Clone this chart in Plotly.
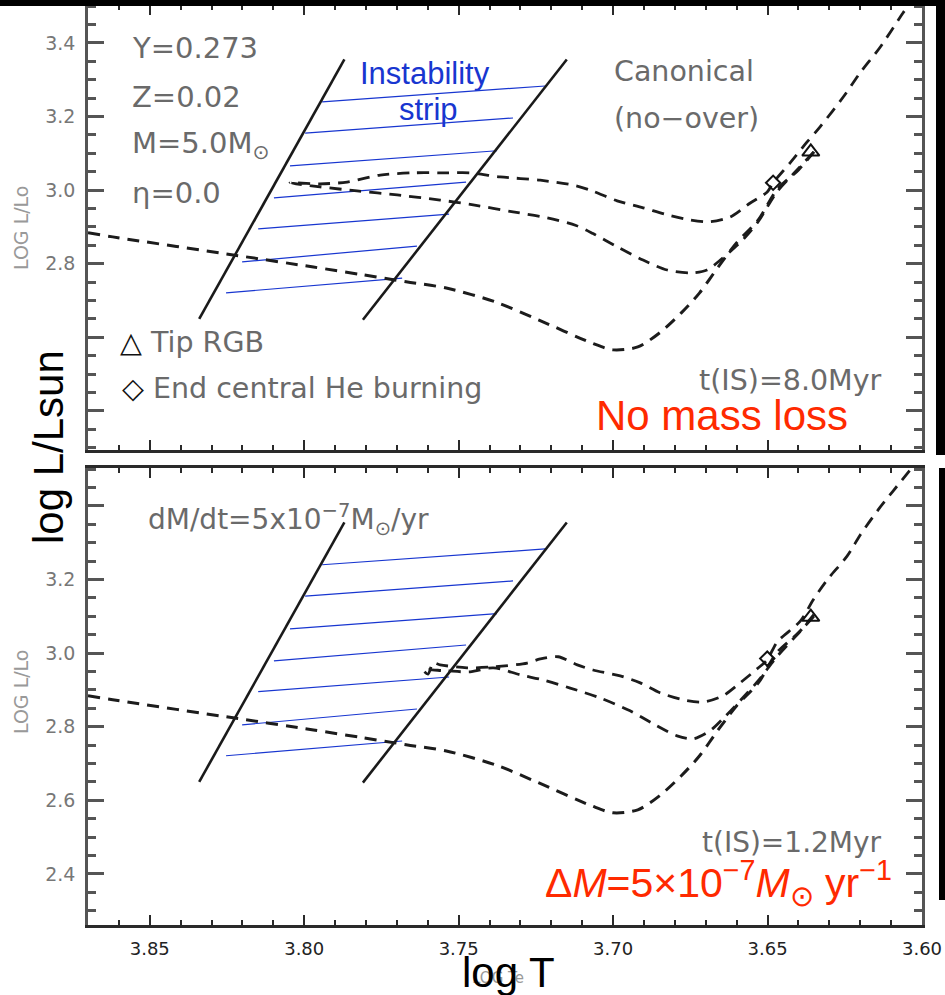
import plotly.graph_objects as go

# ---------------- data ----------------
# instability strip edges (log Te, log L)
blue_edge_logT = [3.834, 3.787]
blue_edge_logL = [2.650, 3.355]
red_edge_logT = [3.781, 3.715]
red_edge_logL = [2.648, 3.355]

# blue hatching of the strip
hatch_T_start = [3.7942, 3.7997, 3.8046, 3.8098, 3.8149, 3.8201, 3.8253]
hatch_L_start = [3.240, 3.155, 3.066, 2.979, 2.895, 2.805, 2.721]
hatch_T_end = [3.7220, 3.7324, 3.7376, 3.7476, 3.7531, 3.7635, 3.7683]
hatch_L_end = [3.283, 3.196, 3.107, 3.022, 2.935, 2.848, 2.761]

# first crossing + red giant branch up to the tip (same in both panels)
trackA_logT = [3.870, 3.862, 3.823, 3.797, 3.781, 3.767, 3.754, 3.738, 3.724, 3.707,
               3.700, 3.692, 3.685, 3.678, 3.672, 3.666, 3.660, 3.653, 3.647, 3.640, 3.635]
trackA_logL = [2.884, 2.873, 2.824, 2.791, 2.770, 2.751, 2.734, 2.696, 2.647, 2.585,
               2.566, 2.574, 2.612, 2.666, 2.721, 2.791, 2.857, 2.919, 3.001, 3.055, 3.104]

# core He burning loop + AGB, canonical (no mass loss)
loop_top_logT = [3.635, 3.641, 3.647, 3.653, 3.658, 3.6653, 3.6696, 3.6751, 3.6825, 3.6903,
                 3.6987, 3.7065, 3.7120, 3.7214, 3.7324, 3.7453, 3.7560, 3.7699, 3.7829, 3.7949,
                 3.8046, 3.7949, 3.7861, 3.7754, 3.7648, 3.7537, 3.7463, 3.7366, 3.7236, 3.7120,
                 3.7065, 3.6987, 3.6903, 3.6825, 3.6751, 3.6686, 3.6621, 3.6556, 3.6501, 3.6482,
                 3.6427, 3.6372, 3.6330, 3.6255, 3.6200, 3.6135, 3.6061, 3.6038]
loop_top_logL = [3.104, 3.050, 2.995, 2.915, 2.865, 2.810, 2.783, 2.775, 2.783, 2.810,
                 2.846, 2.882, 2.904, 2.925, 2.941, 2.960, 2.973, 2.987, 2.998, 3.009,
                 3.020, 3.017, 3.022, 3.041, 3.047, 3.047, 3.047, 3.036, 3.027, 3.012,
                 2.997, 2.971, 2.952, 2.933, 2.919, 2.914, 2.927, 2.965, 2.995, 3.020,
                 3.074, 3.131, 3.172, 3.253, 3.319, 3.389, 3.482, 3.509]

# core He burning loop + AGB, with mass loss dM/dt = 5e-7 Msun/yr
loop_bot_logT = [3.635, 3.641, 3.647, 3.653, 3.6586, 3.6638, 3.6686, 3.6741, 3.6793, 3.6864,
                 3.6945, 3.7042, 3.7139, 3.7227, 3.7301, 3.7388, 3.7463, 3.7544, 3.7615, 3.7599,
                 3.7583, 3.7560, 3.7473, 3.7388, 3.7278, 3.7236, 3.7178, 3.7116, 3.7065, 3.6977,
                 3.6912, 3.6848, 3.6773, 3.6708, 3.6644, 3.6589, 3.6534, 3.6501, 3.6469, 3.6394,
                 3.6352, 3.6307, 3.6242, 3.6200, 3.6145, 3.6093, 3.6038]
loop_bot_logL = [3.100, 3.045, 2.990, 2.925, 2.873, 2.827, 2.789, 2.767, 2.775, 2.805,
                 2.843, 2.878, 2.905, 2.927, 2.941, 2.960, 2.949, 2.952, 2.954, 2.943,
                 2.973, 2.968, 2.960, 2.9625, 2.973, 2.984, 2.990, 2.968, 2.954, 2.938,
                 2.919, 2.892, 2.873, 2.867, 2.884, 2.919, 2.957, 2.982, 3.030, 3.087,
                 3.145, 3.199, 3.264, 3.321, 3.386, 3.441, 3.498]

# special points: tip of RGB (triangle), end of central He burning (diamond)
tip_logT = [3.636, 3.636]          # [top, bottom]
tip_logL = [3.104, 3.098]
heend_logT = [3.6482, 3.6501]
heend_logL = [3.020, 2.985]

# axes
x_range = [3.87, 3.60]
y_range_top = [2.294, 3.503]
y_range_bot = [2.261, 3.503]
y_tickvals = [2.4, 2.6, 2.8, 3.0, 3.2, 3.4]
y_ticktext_top = ["", "", "2.8", "3.0", "3.2", "3.4"]
y_ticktext_bot = ["2.4", "2.6", "2.8", "3.0", "3.2", ""]
x_tickvals = [3.85, 3.80, 3.75, 3.70, 3.65, 3.60]
x_ticktext = ["3.85", "3.80", "3.75", "3.70", "3.65", "3.60"]

# ---------------- layout helpers ----------------
W, H = 945, 995
ML, MR, MT, MB = 88, 23, 5, 70
PW = W - ML - MR
PH = H - MT - MB


def px(x):
    return (x - ML) / PW


def py(y):
    return (H - MB - y) / PH


DASH = "12px,8px"
LINE_C = "#1c1c1c"
GRAY = "#6a6a6a"

fig = go.Figure()

panels = [
    ("x2", "y2", loop_top_logT, loop_top_logL, 0),
    ("x", "y", loop_bot_logT, loop_bot_logL, 1),
]

for xa, ya, lT, lL, k in panels:
    hx, hy = [], []
    for a, b, c, d in zip(hatch_T_start, hatch_L_start, hatch_T_end, hatch_L_end):
        hx += [a, c, None]
        hy += [b, d, None]
    fig.add_trace(go.Scatter(x=hx, y=hy, mode="lines", xaxis=xa, yaxis=ya,
                             line=dict(color="#1836d0", width=1.2), showlegend=False,
                             hoverinfo="skip"))
    fig.add_trace(go.Scatter(x=blue_edge_logT, y=blue_edge_logL, mode="lines", xaxis=xa, yaxis=ya,
                             line=dict(color="#1a1a1a", width=2.6), showlegend=False))
    fig.add_trace(go.Scatter(x=red_edge_logT, y=red_edge_logL, mode="lines", xaxis=xa, yaxis=ya,
                             line=dict(color="#1a1a1a", width=2.6), showlegend=False))
    fig.add_trace(go.Scatter(x=trackA_logT, y=trackA_logL, mode="lines", xaxis=xa, yaxis=ya,
                             line=dict(color=LINE_C, width=3, dash=DASH, shape="spline",
                                       smoothing=0.8),
                             showlegend=False))
    fig.add_trace(go.Scatter(x=lT, y=lL, mode="lines", xaxis=xa, yaxis=ya,
                             line=dict(color=LINE_C, width=2.8, dash=DASH, shape="spline",
                                       smoothing=0.8),
                             showlegend=False))
    fig.add_trace(go.Scatter(x=[tip_logT[k]], y=[tip_logL[k]], mode="markers", xaxis=xa, yaxis=ya,
                             marker=dict(symbol="triangle-up-open", size=15, color="#111",
                                         line=dict(width=2, color="#111")),
                             showlegend=False))
    fig.add_trace(go.Scatter(x=[heend_logT[k]], y=[heend_logL[k]], mode="markers", xaxis=xa, yaxis=ya,
                             marker=dict(symbol="diamond-open", size=11, color="#111",
                                         line=dict(width=2, color="#111")),
                             showlegend=False))

axis_common = dict(showgrid=False, zeroline=False, showline=True, linecolor="#2a2a2a",
                   linewidth=2.5, mirror="allticks", ticks="inside", tickcolor="#2a2a2a",
                   automargin=False)

xa_common = dict(axis_common, range=x_range, tickmode="array", tickvals=x_tickvals,
                 ticktext=x_ticktext, ticklen=10, tickwidth=2,
                 minor=dict(ticks="inside", tickmode="linear", tick0=3.60, dtick=0.01,
                            ticklen=5, tickwidth=2, tickcolor="#2a2a2a"))
ya_common = dict(axis_common, tickmode="array", tickvals=y_tickvals, ticklen=16, tickwidth=2.5,
                 tickcolor="#555", linecolor="#555",
                 tickfont=dict(family="DejaVu Sans", size=19, color="#777"),
                 ticklabelstandoff=6,
                 minor=dict(ticks="inside", tickmode="linear", tick0=2.4, dtick=0.05,
                            ticklen=8, tickwidth=2.5, tickcolor="#555"))

top_dom = [py(450), py(MT)]
bot_dom = [0, py(468)]

fig.update_layout(
    width=W, height=H,
    margin=dict(l=ML, r=MR, t=MT, b=MB, autoexpand=False),
    paper_bgcolor="white", plot_bgcolor="white",
    showlegend=False,
    xaxis=dict(xa_common, anchor="y", domain=[0, 1],
               tickfont=dict(family="DejaVu Sans", size=18, color="#222"),
               ticklabelstandoff=6),
    yaxis=dict(ya_common, anchor="x", domain=bot_dom, range=y_range_bot,
               ticktext=y_ticktext_bot),
    xaxis2=dict(xa_common, anchor="y2", domain=[0, 1], showticklabels=False),
    yaxis2=dict(ya_common, anchor="x2", domain=top_dom, range=y_range_top,
                ticktext=y_ticktext_top),
)

ann = []


def text(x, y, s, size, color, family="DejaVu Sans", xanchor="left", angle=0):
    ann.append(dict(x=px(x), y=py(y), xref="paper", yref="paper", text=s, showarrow=False,
                    xanchor=xanchor, yanchor="middle", textangle=angle,
                    font=dict(size=size, color=color, family=family)))


# top panel texts
text(130, 48, "Y=0.273", 29, GRAY)
text(130, 97, "Z=0.02", 29, GRAY)
text(130, 145, "M=5.0M<sub>⊙</sub>", 29, GRAY)
text(130, 193, "η=0.0", 29, GRAY)
text(612, 72, "Canonical", 28.5, GRAY)
text(612, 119, "(no−over)", 28.5, GRAY)
text(118, 342, "<span style='color:#111'>△</span> Tip RGB", 28.5, GRAY)
text(120, 388, "<span style='color:#111'>◇</span> End central He burning", 28.5, GRAY)
text(884, 380, "t(IS)=8.0Myr", 28.5, GRAY, xanchor="right")
text(722, 415, "No mass loss", 42, "#ff2a00", family="Liberation Sans", xanchor="center")
text(425, 73, "Instability", 31, "#1836d0", family="Liberation Sans", xanchor="center")
text(428, 109, "strip", 31, "#1836d0", family="Liberation Sans", xanchor="center")

# bottom panel texts
text(146, 520, "dM/dt=5x10<sup>−7</sup>M<sub>⊙</sub>/yr", 28, GRAY)
text(884, 842, "t(IS)=1.2Myr", 28, GRAY, xanchor="right")
text(718, 883, "Δ<i>M</i>=5×10<sup>−7</sup><i>M</i><sub>⊙</sub> yr<sup>−1</sup>", 41, "#ff2a00",
     family="Liberation Sans", xanchor="center")

# axis titles
text(21, 228, "LOG L/Lo", 19, "#999", xanchor="center", angle=-90)
text(21, 692, "LOG L/Lo", 19, "#999", xanchor="center", angle=-90)
text(498, 978, "LOG Te", 15, "#999", xanchor="center")
text(48, 447, "log L/Lsun", 42, "black", family="Liberation Sans", xanchor="center", angle=-90)
text(508, 972, "log T", 42, "black", family="Liberation Sans", xanchor="center")

fig.update_layout(annotations=ann)

# black frame bars of the composite
fig.add_shape(type="rect", xref="paper", yref="paper", x0=px(0), x1=px(W), y0=py(6), y1=py(0),
              fillcolor="black", line_width=0, layer="above")
fig.add_shape(type="rect", xref="paper", yref="paper", x0=px(936), x1=px(W), y0=py(455), y1=py(0),
              fillcolor="black", line_width=0, layer="above")
fig.add_shape(type="rect", xref="paper", yref="paper", x0=px(939), x1=px(W), y0=py(900), y1=py(468),
              fillcolor="black", line_width=0, layer="above")

fig.write_html(
    "out.html",
    config={"displayModeBar": False},
    post_script="document.body.style.margin='0';document.body.style.padding='0';"
                "document.documentElement.style.overflow='hidden';",
)
